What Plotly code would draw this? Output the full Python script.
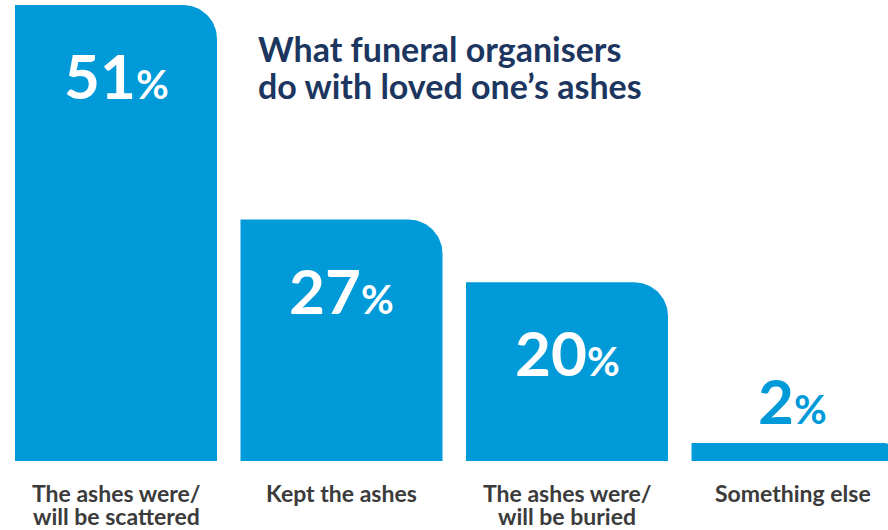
import numpy as np
import plotly.graph_objects as go

# Survey results: what funeral organisers do with the ashes
categories = ["The ashes were/\nwill be scattered", "Kept the ashes",
              "The ashes were/\nwill be buried", "Something else"]
values = [51, 27, 20, 2]
title_lines = ["What funeral organisers", "do with loved one\u2019s ashes"]

BLUE = "#009AD9"
NAVY = "#1C365F"
GREY = "#3B3B3B"
FONT = "Lato"

W, H = 888, 530
# axis geometry (pixels per data unit) used to shape the rounded corner
X_RANGE = [-116 / 225.5, (W - 116) / 225.5]
Y_RANGE = [-69 / (456 / 51), 461 / (456 / 51)]
px_x = W / (X_RANGE[1] - X_RANGE[0])
px_y = H / (Y_RANGE[1] - Y_RANGE[0])
half_w = 101 / px_x

fig = go.Figure()

for i, v in enumerate(values):
    h_px = v * px_y
    r_px = min(34, h_px / 2)
    rx, ry = r_px / px_x, r_px / px_y
    left, right = i - half_w, i + half_w
    t = np.linspace(np.pi / 2, 0, 24)
    arc_x = (right - rx) + rx * np.cos(t)
    arc_y = (v - ry) + ry * np.sin(t)
    xs = [left, left] + list(arc_x) + [right, left]
    ys = [0, v] + list(arc_y) + [0, 0]
    fig.add_trace(go.Scatter(x=xs, y=ys, mode="lines", fill="toself",
                             fillcolor=BLUE, line=dict(width=0, color=BLUE),
                             hoverinfo="skip", showlegend=False))

# value labels: inside the bar near its top, above it for the smallest bar
for i, v in enumerate(values):
    inside = v > 5
    fig.add_annotation(
        x=i, y=v, xref="x", yref="y",
        text=f"<b>{v}</b><b><span style='font-size:40px'>%</span></b>",
        showarrow=False, yanchor="middle",
        yshift=-70 if inside else 43,
        font=dict(family=FONT, size=62, color="white" if inside else BLUE),
    )

# category labels under the bars, one annotation per line for tight leading
for i, c in enumerate(categories):
    for j, line in enumerate(c.split("\n")):
        fig.add_annotation(
            x=i, y=0, xref="x", yref="y", text=f"<b>{line}</b>",
            showarrow=False, yanchor="top", yshift=-17 - 23 * j,
            borderpad=0,
            font=dict(family=FONT, size=23, color=GREY),
        )

for j, line in enumerate(title_lines):
    fig.add_annotation(
        x=256 / W, y=1 - (26 + 37 * j) / H, xref="paper", yref="paper",
        xanchor="left", yanchor="top", align="left", showarrow=False,
        text=f"<b>{line}</b>",
        font=dict(family=FONT, size=34, color=NAVY),
    )

fig.update_xaxes(range=X_RANGE, visible=False, fixedrange=True)
fig.update_yaxes(range=Y_RANGE, visible=False, fixedrange=True)
fig.update_layout(
    width=W, height=H, margin=dict(l=0, r=0, t=0, b=0),
    paper_bgcolor="white", plot_bgcolor="white",
)

fig.write_html("out.html")
